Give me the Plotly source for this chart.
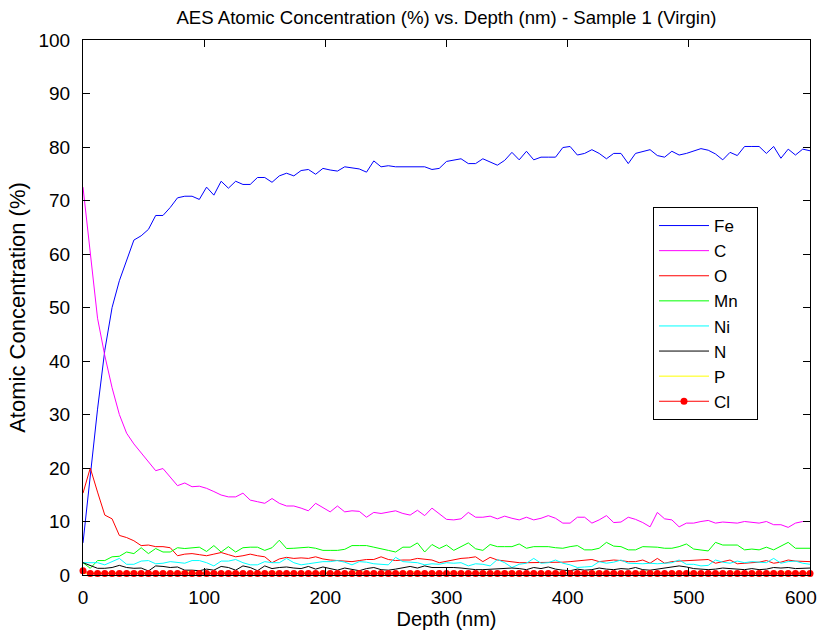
import plotly.graph_objects as go

depth = [0, 6, 12, 18, 24, 30, 36, 42, 48, 54, 60, 66, 72, 78, 84, 90, 96, 102, 108, 114,
         120, 126, 132, 138, 144, 150, 156, 162, 168, 174, 180, 186, 192, 198, 204, 210, 216, 222, 228, 234,
         240, 246, 252, 258, 264, 270, 276, 282, 288, 294, 300, 306, 312, 318, 324, 330, 336, 342, 348, 354,
         360, 366, 372, 378, 384, 390, 396, 402, 408, 414, 420, 426, 432, 438, 444, 450, 456, 462, 468, 474,
         480, 486, 492, 498, 504, 510, 516, 522, 528, 534, 540, 546, 552, 558, 564, 570, 576, 582, 588, 594, 600]

fe = [6, 18.5, 31, 42, 50, 55, 59, 62.6, 63.4, 64.6,
      67.2, 67.2, 68.7, 70.5, 70.8, 70.8, 70.2, 72.5, 71.0, 73.6,
      72.3, 73.6, 73.0, 73.0, 74.3, 74.3, 73.4, 74.6, 75.1, 74.6,
      75.6, 75.8, 74.9, 76.0, 75.7, 75.5, 76.3, 76.1, 75.9, 75.3,
      77.4, 76.3, 76.5, 76.3, 76.3, 76.3, 76.3, 76.3, 75.8, 76.0,
      77.3, 77.6, 77.8, 76.9, 76.9, 77.8, 77.2, 76.6, 77.5, 79.0,
      77.6, 79.2, 77.6, 78.1, 78.1, 78.1, 79.9, 80.1, 78.5, 78.8,
      79.5, 78.8, 77.8, 78.8, 78.8, 76.9, 78.8, 79.2, 79.5, 78.4,
      78.1, 79.2, 78.5, 78.8, 79.2, 79.7, 79.4, 78.7, 77.6, 79.0,
      78.4, 80.1, 80.1, 80.1, 78.8, 80.1, 77.9, 79.6, 78.5, 79.6,
      79.3]

c = [72.5, 60, 48, 41, 35, 30, 26.5, 24.5, 22.8, 21.3,
     19.5, 19.9, 18.2, 16.7, 17.2, 16.5, 16.6, 16.2, 15.6, 14.95,
     14.6, 14.6, 15.3, 14.0, 13.7, 13.4, 14.3, 13.4, 12.9, 12.9,
     12.5, 12.0, 13.4, 12.6, 11.8, 12.9, 11.8, 12.0, 11.9, 10.8,
     11.7, 11.5, 11.7, 12.0, 11.5, 11.2, 12.1, 11.1, 12.5, 11.4,
     10.4, 10.3, 10.5, 11.7, 10.8, 10.8, 11.0, 10.5, 11.0, 10.6,
     10.3, 10.8, 10.3, 10.6, 11.1, 10.6, 9.7, 9.7, 10.8, 10.8,
     9.7, 10.3, 11.1, 9.8, 9.9, 10.8, 10.4, 9.8, 9.0, 11.7,
     10.5, 10.3, 9.0, 9.7, 9.7, 10.0, 10.2, 9.7, 9.9, 9.8,
     9.7, 10.0, 9.8, 9.7, 10.0, 9.4, 9.4, 8.9, 9.7, 10.0,
     10.0]

o = [15.3, 20, 15.5, 11.2, 10.5, 7.4, 7.0, 6.4, 5.5, 5.6,
     5.3, 5.3, 5.1, 3.6, 3.9, 4.0, 3.8, 3.6, 3.9, 4.2,
     3.8, 3.4, 3.6, 3.9, 3.6, 3.4, 2.3, 3.0, 3.3, 3.1,
     3.2, 3.1, 3.4, 3.0, 2.8, 2.7, 2.5, 2.5, 2.7, 2.9,
     2.9, 3.4, 2.9, 2.7, 2.8, 2.8, 3.1, 2.9, 2.8, 2.3,
     2.6, 2.8, 3.1, 3.2, 3.4, 2.5, 3.3, 2.8, 2.6, 2.4,
     2.3, 2.3, 2.3, 2.3, 2.3, 2.3, 2.4, 2.5, 2.6, 2.8,
     2.9, 2.5, 2.6, 2.8, 2.7, 2.5, 2.5, 2.8, 2.2, 3.1,
     2.2, 2.5, 2.6, 2.7, 2.8, 2.9, 2.9, 2.2, 2.5, 2.8,
     2.1, 2.2, 2.3, 2.4, 2.7, 2.2, 2.4, 2.8, 2.6, 2.5,
     2.5]

mn = [2.3, 1.25, 2.7, 2.7, 3.4, 3.5, 4.3, 4.0, 5.1, 4.0,
      4.95, 4.3, 4.3, 5.1, 4.95, 5.1, 5.2, 4.4, 5.5, 4.3,
      5.3, 4.3, 5.1, 5.2, 5.2, 4.6, 5.1, 6.5, 4.95, 5.0,
      5.1, 5.2, 5.0, 4.6, 4.6, 4.6, 4.8, 5.5, 5.5, 5.5,
      5.2, 4.95, 4.6, 4.3, 5.2, 5.2, 6.0, 4.3, 5.7, 4.95,
      5.6, 4.6, 5.3, 6.0, 4.9, 4.6, 5.7, 5.3, 5.3, 5.3,
      5.8, 5.0, 5.3, 5.3, 5.3, 5.1, 5.0, 5.3, 5.5, 4.7,
      4.7, 5.0, 6.1, 5.4, 5.3, 4.7, 4.7, 5.3, 5.3, 5.2,
      5.0, 5.0, 5.3, 5.8, 4.85, 4.7, 4.5, 6.1, 5.6, 5.6,
      5.6, 4.7, 4.85, 4.7, 5.2, 4.7, 5.4, 6.1, 5.0, 5.0,
      5.0]

ni = [2.3, 2.3, 2.3, 1.9, 2.5, 3.1, 2.0, 2.0, 2.6, 2.7,
      2.1, 2.2, 2.5, 2.3, 2.2, 2.7, 2.7, 2.3, 1.7, 2.6,
      2.6, 2.9, 2.3, 1.9, 1.9, 2.5, 2.3, 2.3, 3.1, 2.3,
      1.9, 2.1, 2.3, 2.5, 2.5, 2.7, 2.4, 1.9, 2.5, 2.4,
      2.1, 2.0, 1.9, 3.3, 2.5, 2.4, 2.3, 1.9, 2.1, 2.0,
      2.3, 2.2, 2.3, 1.7, 2.1, 2.0, 1.7, 2.9, 2.3, 1.4,
      2.0, 2.2, 3.1, 2.2, 2.3, 2.8, 2.2, 1.9, 1.4, 1.5,
      1.6, 2.5, 2.2, 2.4, 2.8, 2.2, 2.1, 2.1, 2.2, 2.1,
      2.2, 2.3, 2.8, 2.0, 2.0, 1.7, 1.8, 2.8, 2.4, 2.2,
      2.6, 2.3, 2.5, 2.4, 2.3, 3.1, 2.2, 2.5, 2.6, 2.2,
      2.0]

n = [2.3, 1.7, 1.25, 1.25, 1.4, 1.8, 1.4, 1.25, 1.3, 0.75,
     1.7, 1.6, 1.4, 1.5, 0.9, 0.9, 0.8, 1.1, 0.9, 1.6,
     1.4, 0.9, 1.7, 1.4, 0.8, 1.7, 1.2, 1.4, 1.5, 1.3,
     1.2, 1.6, 1.1, 1.5, 1.2, 0.9, 1.3, 1.0, 0.8, 1.2,
     1.4, 1.0, 0.9, 1.1, 1.4, 1.6, 1.3, 1.7, 1.4, 1.4,
     1.5, 1.4, 1.3, 1.1, 1.0, 1.0, 1.1, 1.1, 1.2, 1.3,
     1.2, 1.0, 1.4, 1.2, 1.5, 1.1, 0.9, 0.8, 1.1, 0.9,
     1.0, 1.3, 1.1, 1.0, 1.2, 1.1, 1.4, 1.0, 0.9, 1.1,
     1.3, 1.6, 1.7, 1.5, 1.2, 1.1, 1.0, 1.1, 1.3, 1.2,
     1.1, 1.0, 1.2, 1.0, 1.1, 1.4, 1.3, 1.4, 1.2, 1.3,
     1.3]

p = [0.3, 0.4, 0.5, 0.5, 0.4, 0.5, 0.5, 0.6, 0.5, 0.4,
     0.5, 0.5, 0.4, 0.5, 0.6, 0.5, 0.5, 0.4, 0.5, 0.5,
     0.6, 0.5, 0.4, 0.5, 0.5, 0.5, 0.6, 0.5, 0.4, 0.5,
     0.5, 0.5, 0.6, 0.5, 0.5, 0.4, 0.5, 0.5, 0.6, 0.5,
     0.5, 0.5, 0.4, 0.5, 0.5, 0.6, 0.5, 0.5, 0.5, 0.4,
     0.5, 0.6, 0.5, 0.5, 0.4, 0.5, 0.5, 0.5, 0.6, 0.5,
     0.5, 0.4, 0.5, 0.5, 0.6, 0.5, 0.5, 0.4, 0.5, 0.5,
     0.5, 0.6, 0.5, 0.5, 0.4, 0.5, 0.5, 0.6, 0.5, 0.5,
     0.4, 0.5, 0.5, 0.5, 0.6, 0.5, 0.4, 0.5, 0.5, 0.5,
     0.6, 0.5, 0.5, 0.4, 0.5, 0.5, 0.6, 0.5, 0.5, 0.4,
     0.5]

cl = [0.8, 0.3, 0.3, 0.3, 0.3, 0.3, 0.3, 0.3, 0.3, 0.3,
      0.3, 0.3, 0.3, 0.3, 0.3, 0.3, 0.3, 0.3, 0.3, 0.3,
      0.3, 0.3, 0.3, 0.3, 0.3, 0.3, 0.3, 0.3, 0.3, 0.3,
      0.3, 0.3, 0.3, 0.3, 0.3, 0.3, 0.3, 0.3, 0.3, 0.3,
      0.3, 0.3, 0.3, 0.3, 0.3, 0.3, 0.3, 0.3, 0.3, 0.3,
      0.3, 0.3, 0.3, 0.3, 0.3, 0.3, 0.3, 0.3, 0.3, 0.3,
      0.3, 0.3, 0.3, 0.3, 0.3, 0.3, 0.3, 0.3, 0.3, 0.3,
      0.3, 0.3, 0.3, 0.3, 0.3, 0.3, 0.3, 0.3, 0.3, 0.3,
      0.3, 0.3, 0.3, 0.3, 0.3, 0.3, 0.3, 0.3, 0.3, 0.3,
      0.3, 0.3, 0.3, 0.3, 0.3, 0.3, 0.3, 0.3, 0.3, 0.3,
      0.3]

series_names = ["Fe", "C", "O", "Mn", "Ni", "N", "P", "Cl"]
series_values = [fe, c, o, mn, ni, n, p, cl]
series_colors = ["#0000FF", "#FF00FF", "#FF0000", "#00FF00", "#00FFFF", "#000000", "#FFFF00", "#FF0000"]

x_ticks = [0, 100, 200, 300, 400, 500, 600]
x_tick_labels = ["0", "100", "200", "300", "400", "500", "600"]
y_ticks = [0, 10, 20, 30, 40, 50, 60, 70, 80, 90, 100]

FONT = "Liberation Sans, Arial, sans-serif"
PAD = "\u00a0"

fig = go.Figure()
for name, vals, col in zip(series_names, series_values, series_colors):
    label = name + PAD * 3
    if name == "Cl":
        fig.add_trace(go.Scatter(x=depth, y=vals, name=label, mode="lines+markers",
                                 line=dict(color=col, width=1),
                                 marker=dict(color=col, size=7, symbol="circle"),
                                 cliponaxis=False))
    else:
        fig.add_trace(go.Scatter(x=depth, y=vals, name=label, mode="lines",
                                 line=dict(color=col, width=1)))

axis_common = dict(showline=True, linecolor="black", linewidth=1, mirror="ticks",
                   ticks="inside", ticklen=7, tickcolor="black", tickwidth=1,
                   showgrid=False, zeroline=False,
                   automargin=True,
                   tickfont=dict(family=FONT, size=19, color="black"))

# x tick labels: the last one is drawn as an annotation nudged left so it stays in the page
x_tick_text = x_tick_labels[:-1] + [""]

fig.update_layout(
    width=819, height=631,
    margin=dict(l=83, r=9, t=40, b=56, autoexpand=False),
    paper_bgcolor="white", plot_bgcolor="white",
    font=dict(family=FONT, color="black"),
    title=dict(text="AES Atomic Concentration (%) vs. Depth (nm) - Sample 1 (Virgin)",
               x=0.5, xref="paper", xanchor="center",
               y=1 - 17 / 631, yref="container", yanchor="middle",
               font=dict(family=FONT, size=18.6, color="black")),
    xaxis=dict(range=[0, 600], tickvals=x_ticks, ticktext=x_tick_text, ticklabelstandoff=5,
               title=dict(text="Depth (nm)", font=dict(family=FONT, size=20), standoff=1),
               **axis_common),
    yaxis=dict(range=[0, 100], tickvals=y_ticks, ticklabelstandoff=8,
               title=dict(text="Atomic Concentration (%)", font=dict(family=FONT, size=22), standoff=6),
               **axis_common),
    showlegend=True,
    legend=dict(x=(653 - 83) / 727, y=(575 - 207) / 535, xanchor="left", yanchor="top",
                bgcolor="white", bordercolor="black", borderwidth=1,
                font=dict(family=FONT, size=17, color="black"),
                itemwidth=50, tracegroupgap=0),
)

fig.add_annotation(x=x_ticks[-1], xref="x", y=0, yref="paper",
                   text=x_tick_labels[-1], showarrow=False,
                   xanchor="center", yanchor="middle", xshift=-9, yshift=-22,
                   font=dict(family=FONT, size=19, color="black"))

fig.write_html("out.html")
